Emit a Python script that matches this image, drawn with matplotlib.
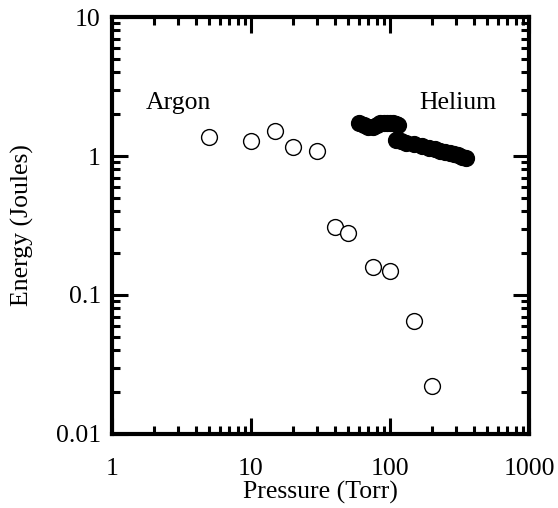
import matplotlib
matplotlib.use("Agg")
import matplotlib.pyplot as plt
from matplotlib.ticker import LogLocator, FixedLocator, FixedFormatter, NullFormatter

plt.rcParams['font.family'] = ['Liberation Serif', 'DejaVu Serif']

# Argon (open circles)
argon_p = [5, 10, 15, 20, 30, 40, 50, 75, 100, 150, 200]
argon_e = [1.38, 1.29, 1.52, 1.17, 1.09, 0.31, 0.277, 0.158, 0.150, 0.0645, 0.022]

# Helium (filled circles)
helium_p = [60, 65, 70, 75, 80, 85, 90, 95, 100, 105, 110, 115,
            110, 120, 130, 150, 170, 190, 210, 230, 250, 270, 290, 310, 330, 350]
helium_e = [1.73, 1.68, 1.63, 1.62, 1.66, 1.72, 1.74, 1.73, 1.72, 1.72, 1.70, 1.66,
            1.31, 1.28, 1.25, 1.22, 1.18, 1.15, 1.12, 1.09, 1.07, 1.05, 1.03, 1.01, 0.99, 0.975]

x_ticks = [1, 10, 100, 1000]
x_labels = ["1", "10", "100", "1000"]
y_ticks = [0.01, 0.1, 1, 10]
y_labels = ["0.01", "0.1", "1", "10"]

FS = 18.5

fig = plt.figure(figsize=(5.58, 5.08), dpi=100)
ax = fig.add_axes([0.2007, 0.1457, 0.7473, 0.8208])

ax.scatter(argon_p, argon_e, s=130, facecolors='white', edgecolors='black', linewidths=1.0, zorder=3)
ax.scatter(helium_p, helium_e, s=130, facecolors='black', edgecolors='black', linewidths=1.0, zorder=3)

ax.set_xscale('log')
ax.set_yscale('log')
ax.set_xlim(1, 1000)
ax.set_ylim(0.01, 10)

ax.xaxis.set_major_locator(FixedLocator(x_ticks))
ax.xaxis.set_major_formatter(FixedFormatter(x_labels))
ax.yaxis.set_major_locator(FixedLocator(y_ticks))
ax.yaxis.set_major_formatter(FixedFormatter(y_labels))
ax.xaxis.set_minor_locator(LogLocator(base=10, subs=range(2, 10)))
ax.yaxis.set_minor_locator(LogLocator(base=10, subs=range(2, 10)))
ax.xaxis.set_minor_formatter(NullFormatter())
ax.yaxis.set_minor_formatter(NullFormatter())

for s in ax.spines.values():
    s.set_linewidth(3)
ax.tick_params(which='major', direction='in', length=11.5, width=2.2,
               top=True, right=True, labelsize=FS)
ax.tick_params(axis='x', which='major', pad=17)
ax.tick_params(axis='y', which='major', pad=8)
ax.tick_params(which='minor', direction='in', length=5.8, width=2.2,
               top=True, right=True)

ax.set_xlabel('Pressure (Torr)', fontsize=FS, labelpad=1)
ax.set_ylabel('Energy (Joules)', fontsize=FS, labelpad=16)

ax.text(1.75, 2.4, 'Argon', fontsize=FS, va='center', ha='left')
ax.text(163, 2.4, 'Helium', fontsize=FS, va='center', ha='left')

fig.savefig('out.png', dpi=100)
